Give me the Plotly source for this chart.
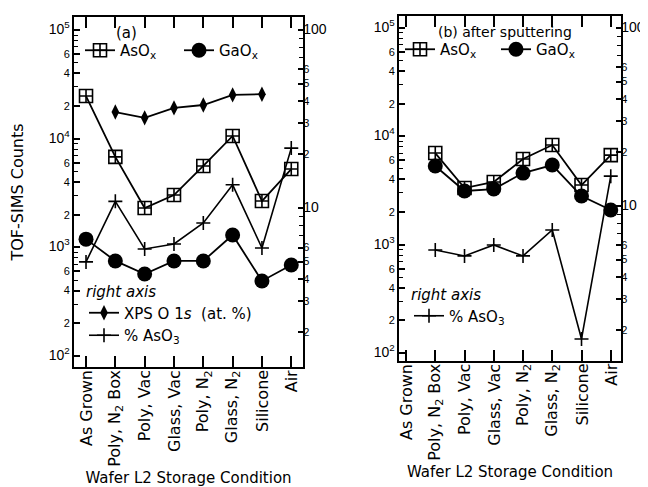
import math
import plotly.graph_objects as go

# ---------------- data ----------------
categories = ["As Grown", "Poly, N<sub>2</sub> Box", "Poly, Vac", "Glass, Vac",
              "Poly, N<sub>2</sub>", "Glass, N<sub>2</sub>", "Silicone", "Air"]

# panel (a) - left axis (TOF-SIMS counts)
a_asox = [24700, 6800, 2300, 3030, 5610, 10600, 2670, 5260]
a_gaox = [1190, 750, 569, 750, 750, 1300, 491, 689]
# panel (a) - right axis
a_xps = [None, 34.6, 32.1, 36.5, 37.9, 43.2, 43.6, None]
a_aso3 = [4.98, 10.9, 5.89, 6.28, 8.24, 13.5, 5.96, 21.7]

# panel (b) after sputtering
b_asox = [None, 7010, 3330, 3790, 6170, 8310, 3550, 6710]
b_gaox = [None, 5320, 3130, 3260, 4580, 5430, 2810, 2090]
b_aso3 = [None, 5.66, 5.24, 6.04, 5.24, 7.33, 1.79, 14.7]

# tick definitions
left_decades = [1e2, 1e3, 1e4, 1e5]
left_labeled_mult = [2, 4, 6]
left_minor_mult = [3, 5, 7, 8, 9]
right_decades = [10, 100]
right_labeled_mult = [2, 3, 4, 5, 6]
right_minor_mult = [7, 8, 9]

FONT = "Liberation Sans, Arial, Helvetica, sans-serif"
WFONT = "DejaVu Sans, Verdana, sans-serif"
BLACK = "black"


def sup_dec(v):
    return "<span style='font-size:14px'>10<sup>%d</sup></span>" % round(math.log10(v))


# left axis tick arrays
l_vals, l_text = [], []
for d in left_decades[:-1]:
    l_vals.append(d); l_text.append(sup_dec(d))
    for m in left_labeled_mult:
        l_vals.append(d * m); l_text.append(str(m))
l_vals.append(left_decades[-1]); l_text.append(sup_dec(left_decades[-1]))
l_minor = [d * m for d in left_decades[:-1] for m in left_minor_mult]

# right axis tick arrays
r_vals, r_text = [], []
for d in [1, 10]:
    for m in right_labeled_mult:
        r_vals.append(d * m); r_text.append(str(m))
    r_vals.append(d * 10)
    r_text.append("<span style='font-size:14px'>%d</span>" % (d * 10))
r_minor = [d * m for d in [1, 10] for m in right_minor_mult]

fig = go.Figure()

panels = [
    dict(x="x", xaxis="xaxis", yl="y", yr="y2", yl2="y3", yr2="y4",
         xdom=[66 / 648, 295 / 648], ydom=[1 - 359 / 487, 1 - 9 / 487],
         xr=[-0.41, 7.40], ylr=[1.899, 5.120], yrr=[0.107, 2.073],
         asox=a_asox, gaox=a_gaox, xps=a_xps, aso3=a_aso3,
         leg_top="legend", leg_bot="legend2", ytitle="TOF-SIMS Counts"),
    dict(x="x2", xaxis="xaxis2", yl="y5", yr="y6", yl2="y7", yr2="y8",
         xdom=[391 / 648, 613 / 648], ydom=[1 - 353 / 487, 1 - 8 / 487],
         xr=[-0.24, 7.35], ylr=[1.926, 5.111], yrr=[0.129, 2.067],
         asox=b_asox, gaox=b_gaox, xps=None, aso3=b_aso3,
         leg_top="legend3", leg_bot="legend4", ytitle=None),
]

annotations = [
    dict(text="(a)", xref="paper", yref="paper", x=118 / 648, y=1 - 25 / 487,
         xanchor="center", yanchor="middle",
         showarrow=False, font=dict(family=WFONT, size=15, color=BLACK)),
    dict(text="(b) after sputtering", xref="paper", yref="paper", x=497 / 648, y=1 - 24 / 487,
         xanchor="center", yanchor="middle",
         showarrow=False, font=dict(family=WFONT, size=14, color=BLACK)),
]

for p in panels:
    fig.add_trace(go.Scatter(
        x=categories, y=p["asox"], xaxis=p["x"], yaxis=p["yl"], mode="lines+markers",
        name="AsO<sub>x</sub>", legend=p["leg_top"],
        line=dict(color=BLACK, width=1.8),
        marker=dict(symbol="square-cross-open", size=13, color=BLACK, line=dict(width=1.6, color=BLACK))))
    fig.add_trace(go.Scatter(
        x=categories, y=p["gaox"], xaxis=p["x"], yaxis=p["yl"], mode="lines+markers",
        name="GaO<sub>x</sub>", legend=p["leg_top"],
        line=dict(color=BLACK, width=1.8),
        marker=dict(symbol="circle", size=15, color=BLACK)))
    if p["xps"] is not None:
        fig.add_trace(go.Scatter(
            x=categories, y=p["xps"], xaxis=p["x"], yaxis=p["yr"], mode="lines+markers",
            name="XPS O 1<i>s</i>  (at. %)", legend=p["leg_bot"],
            line=dict(color=BLACK, width=1.8),
            marker=dict(symbol="diamond-tall", size=11, color=BLACK)))
    fig.add_trace(go.Scatter(
        x=categories, y=p["aso3"], xaxis=p["x"], yaxis=p["yr"], mode="lines+markers",
        name="% AsO<sub>3</sub>", legend=p["leg_bot"],
        line=dict(color=BLACK, width=1.6),
        marker=dict(symbol="cross-thin-open", size=10, color=BLACK, line=dict(width=1.6, color=BLACK))))

    # rotated category labels below the x axis (reading bottom-to-top)
    for cat in categories:
        annotations.append(dict(
            text=cat, x=cat, xref=p["x"], y=0, yref=p["yl"] + " domain",
            xanchor="center", yanchor="top", yshift=-2, textangle=-90,
            showarrow=False, borderpad=0,
            font=dict(family=WFONT, size=16, color=BLACK)))

    xk = p["xaxis"]
    yl_key = "yaxis" + ("" if p["yl"] == "y" else p["yl"][1:])
    yr_key = "yaxis" + p["yr"][1:]
    yl2_key = "yaxis" + p["yl2"][1:]
    yr2_key = "yaxis" + p["yr2"][1:]

    yl_axis = dict(domain=p["ydom"], anchor=p["x"], type="log", range=p["ylr"],
                   showline=True, linewidth=2, linecolor=BLACK, mirror=True,
                   ticks="inside", ticklen=6, tickwidth=1.5, tickcolor=BLACK,
                   tickmode="array", tickvals=l_vals, ticktext=l_text,
                   tickfont=dict(family=FONT, size=11, color=BLACK),
                   minor=dict(ticks="inside", ticklen=4, tickwidth=1.2, tickcolor=BLACK,
                              tickmode="array", tickvals=l_minor, showgrid=False),
                   showgrid=False, zeroline=False)
    if p["ytitle"]:
        yl_axis["title"] = dict(text=p["ytitle"], standoff=30,
                                font=dict(family=WFONT, size=16, color=BLACK))

    fig.update_layout({
        xk: dict(domain=p["xdom"], anchor=p["yl"], type="category",
                 categoryorder="array", categoryarray=categories, range=p["xr"],
                 showline=True, linewidth=2, linecolor=BLACK, mirror="ticks",
                 ticks="inside", ticklen=11, tickwidth=1.5, tickcolor=BLACK,
                 showticklabels=False,
                 showgrid=False, zeroline=False,
                 title=dict(text="Wafer L2 Storage Condition", standoff=104,
                            font=dict(family=WFONT, size=15, color=BLACK))),
        yl_key: yl_axis,
        yl2_key: dict(overlaying=p["yl"], anchor=p["x"], side="left", type="log", range=p["ylr"],
                      showline=False, ticks="inside", ticklen=12, tickwidth=1.5, tickcolor=BLACK,
                      tickmode="array", tickvals=left_decades, showticklabels=False,
                      showgrid=False, zeroline=False),
        yr_key: dict(overlaying=p["yl"], anchor=p["x"], side="right", type="log", range=p["yrr"],
                     showline=True, linewidth=2, linecolor=BLACK,
                     ticks="inside", ticklen=5, tickwidth=1.5, tickcolor=BLACK,
                     tickmode="array", tickvals=r_vals, ticktext=r_text,
                     ticklabelstandoff=-4,
                     tickfont=dict(family=FONT, size=11, color=BLACK),
                     minor=dict(ticks="inside", ticklen=4, tickwidth=1.2, tickcolor=BLACK,
                                tickmode="array", tickvals=r_minor, showgrid=False),
                     showgrid=False, zeroline=False),
        yr2_key: dict(overlaying=p["yl"], anchor=p["x"], side="right", type="log", range=p["yrr"],
                      showline=False, ticks="inside", ticklen=12, tickwidth=1.5, tickcolor=BLACK,
                      tickmode="array", tickvals=right_decades, showticklabels=False,
                      showgrid=False, zeroline=False),
    })

leg_common = dict(bgcolor="rgba(0,0,0,0)", borderwidth=0,
                  font=dict(family=WFONT, size=15, color=BLACK),
                  xanchor="left", yanchor="top", itemwidth=30)

fig.update_layout(
    width=648, height=487, autosize=False,
    margin=dict(l=0, r=0, t=0, b=0),
    paper_bgcolor="white", plot_bgcolor="white",
    font=dict(family=FONT, size=16, color=BLACK),
    legend=dict(leg_common, orientation="h", x=72 / 648, y=1 - 26 / 487, entrywidth=54),
    legend2=dict(leg_common, orientation="v", x=76 / 648, y=1 - 269 / 487,
                 title=dict(text="<i>right axis</i>", font=dict(family=WFONT, size=15, color=BLACK))),
    legend3=dict(leg_common, orientation="h", x=392 / 648, y=1 - 25 / 487, entrywidth=51),
    legend4=dict(leg_common, orientation="v", x=401 / 648, y=1 - 272 / 487,
                 title=dict(text="<i>right axis</i>", font=dict(family=WFONT, size=15, color=BLACK))),
    annotations=annotations,
)

fig.write_html("out.html")
